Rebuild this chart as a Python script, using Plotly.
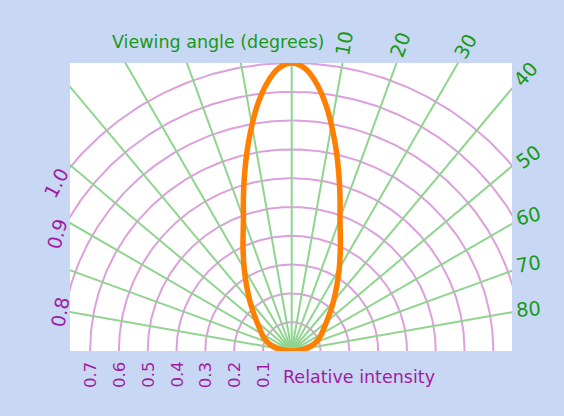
import numpy as np
import plotly.graph_objects as go

# ---------------- data ----------------
radii = [0.1, 0.2, 0.3, 0.4, 0.5, 0.6, 0.7, 0.8, 0.9, 1.0]
spoke_angles = [-80, -70, -60, -50, -40, -30, -20, -10, 0, 10, 20, 30, 40, 50, 60, 70, 80]
angle_tick_labels = ["10", "20", "30", "40", "50", "60", "70", "80"]
bottom_radius_labels = ["0.1", "0.2", "0.3", "0.4", "0.5", "0.6", "0.7"]
bottom_radius_values = [0.1, 0.2, 0.3, 0.4, 0.5, 0.6, 0.7]
side_radius_labels = ["1.0", "0.9", "0.8"]

# radiation pattern, right half (angle in degrees, relative intensity); mirrored on the left
half_angles = [0, 1, 2, 3, 4, 5, 6, 7, 8, 9, 10, 12.5, 15, 17.5, 20, 25, 30, 35, 40,
               45, 50, 55, 60, 65, 70, 75, 80, 85, 90]
half_intensity = [1.0, 0.9975, 0.990, 0.978, 0.961, 0.940, 0.916, 0.889, 0.860, 0.829,
                  0.796, 0.714, 0.633, 0.558, 0.490, 0.400, 0.330, 0.272, 0.226,
                  0.188, 0.158, 0.136, 0.120, 0.105, 0.090, 0.072, 0.052, 0.028, 0.0]
pattern_angles = [-a for a in half_angles[::-1]] + half_angles[1:]
pattern_intensity = half_intensity[::-1] + half_intensity[1:]

# ---------------- style ----------------
BG = "#C8D7F4"
ARC_COL = "#DCA0DC"
SPOKE_COL = "#8FD48F"
CURVE_COL = "#FF7F00"
GREEN_TXT = "#169A16"
PURPLE_TXT = "#A01CA0"
FONT = "DejaVu Sans"

W, H = 564, 416
L, R, T, B = 70, 52, 63, 65
PW, PH = W - L - R, H - T - B
PX = 288.0             # pixels per unit
OX, OY = 291.7, 351.0  # origin pixel


def to_paper(px, py):
    return (px - L) / PW, (H - B - py) / PH


fig = go.Figure()

# arcs
ax, ay = [], []
th = np.radians(np.linspace(-90, 90, 241))
for r in radii:
    ax += list(r * np.sin(th)) + [None]
    ay += list(r * np.cos(th)) + [None]
fig.add_trace(go.Scatter(x=ax, y=ay, mode="lines", line=dict(color=ARC_COL, width=2),
                         hoverinfo="skip", showlegend=False))

# spokes
sx, sy = [], []
for a in spoke_angles:
    t = np.radians(a)
    sx += [0, 1.8 * np.sin(t), None]
    sy += [0, 1.8 * np.cos(t), None]
fig.add_trace(go.Scatter(x=sx, y=sy, mode="lines", line=dict(color=SPOKE_COL, width=2),
                         hoverinfo="skip", showlegend=False))

# radiation pattern
pt = np.radians(pattern_angles)
pi = np.array(pattern_intensity)
fig.add_trace(go.Scatter(x=pi * np.sin(pt), y=pi * np.cos(pt), mode="lines",
                         line=dict(color=CURVE_COL, width=5.5, shape="spline", smoothing=1.0),
                         cliponaxis=False, hoverinfo="skip", showlegend=False))

ann = []

# angle labels (pixel centre, rotation)
angle_pos = [(345, 44, -80), (400, 45, -70), (466, 47, -60), (526, 75, -48),
             (528, 157, -36), (528, 216, -14), (528, 264, -9), (528, 309, -5)]
for lab, (px, py, rot) in zip(angle_tick_labels, angle_pos):
    x, y = to_paper(px, py)
    ann.append(dict(x=x, y=y, xref="paper", yref="paper", text=lab, showarrow=False,
                    textangle=rot, xanchor="center", yanchor="middle",
                    font=dict(family=FONT, size=19.5, color=GREEN_TXT)))

# bottom radius labels
for lab, r in zip(bottom_radius_labels, bottom_radius_values):
    x, y = to_paper(OX - r * PX, 375)
    ann.append(dict(x=x, y=y, xref="paper", yref="paper", text=lab, showarrow=False,
                    textangle=-90, xanchor="center", yanchor="middle",
                    font=dict(family=FONT, size=16.5, color=PURPLE_TXT)))

# side radius labels
side_pos = [(56, 183, -62), (57, 234, -75), (60, 312, -80)]
for lab, (px, py, rot) in zip(side_radius_labels, side_pos):
    x, y = to_paper(px, py)
    ann.append(dict(x=x, y=y, xref="paper", yref="paper", text=lab, showarrow=False,
                    textangle=rot, xanchor="center", yanchor="middle",
                    font=dict(family=FONT, size=19, color=PURPLE_TXT)))

# titles
x, y = to_paper(110, 42)
ann.append(dict(x=x, y=y, xref="paper", yref="paper", text="Viewing angle (degrees)",
                showarrow=False, xanchor="left", yanchor="middle",
                font=dict(family=FONT, size=17.5, color=GREEN_TXT)))
x, y = to_paper(281, 377)
ann.append(dict(x=x, y=y, xref="paper", yref="paper", text="Relative intensity",
                showarrow=False, xanchor="left", yanchor="middle",
                font=dict(family=FONT, size=17.5, color=PURPLE_TXT)))

fig.update_layout(
    width=W, height=H,
    margin=dict(l=L, r=R, t=T, b=B, pad=0),
    paper_bgcolor=BG, plot_bgcolor="white",
    annotations=ann,
    xaxis=dict(range=[(L - OX) / PX, (W - R - OX) / PX], showgrid=False, zeroline=False,
               showticklabels=False, ticks="", fixedrange=True),
    yaxis=dict(range=[0, (OY - T) / PX], showgrid=False, zeroline=False,
               showticklabels=False, ticks="", fixedrange=True),
    showlegend=False,
)

fig.write_html("out.html", config={"displayModeBar": False},
               post_script="document.body.style.margin='0';")
